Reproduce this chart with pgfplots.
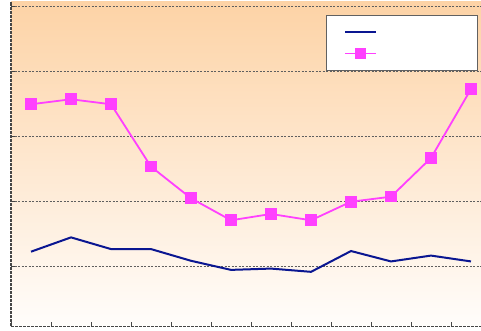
\documentclass[border=0pt]{standalone}
\usepackage{pgfplots}
\usepackage{pgfplotstable}
\pgfplotsset{compat=1.18}

\definecolor{peach}{RGB}{253,211,166}
\definecolor{paleend}{RGB}{255,253,251}
\definecolor{navyline}{RGB}{10,22,145}
\definecolor{magline}{RGB}{255,64,255}
\definecolor{gridgray}{RGB}{95,95,95}
\definecolor{axisgray}{RGB}{70,70,70}

% legend samples: a plain stroke, and a stroke with one centred mark
\pgfplotsset{
  plainsample/.style={legend image code/.code={%
    \draw[##1, line width=2pt] (0pt,0pt) -- (31pt,0pt);}},
  marksample/.style={legend image code/.code={%
    \draw[magline, line width=1.8pt] (0pt,0pt) -- (31pt,0pt);
    \draw[##1, only marks] plot coordinates {(15.5pt,0pt)};}},
}

% monthly series (twelve categories)
\pgfplotstableread{
x  v
1  3.488
2  3.565
3  3.488
4  2.528
5  2.042
6  1.703
7  1.800
8  1.703
9  1.989
10 2.066
11 2.662
12 3.723
}\upperseries

\pgfplotstableread{
x  v
1  1.22
2  1.44
3  1.26
4  1.26
5  1.08
6  0.94
7  0.96
8  0.91
9  1.23
10 1.07
11 1.16
12 1.07
}\lowerseries

\begin{document}
\begin{tikzpicture}[x=1pt,y=1pt]
\path[use as bounding box] (-11,-4.5) rectangle (470,326.5);
\begin{axis}[
  at={(0,0)}, anchor=south west,
  scale only axis,
  width=470pt, height=324.5pt,
  xmin=0.5, xmax=12.25,
  ymin=0.069, ymax=5.0615,
  axis lines*=left,
  axis line style={axisgray, line width=1.2pt, dash pattern=on 3pt off 1pt},
  axis background/.style={shade, top color=peach, bottom color=paleend, draw=none},
  xtick={0.5,1.5,...,11.5},
  ytick={1,2,3,4,5},
  xticklabels={}, yticklabels={},
  tick align=inside,
  major tick length=4pt,
  tick style={axisgray, line width=0.8pt},
  ymajorgrids,
  grid style={gridgray, dash pattern=on 2pt off 1.5pt, line width=0.7pt},
  legend style={
    at={(0.6702,0.9605)}, anchor=north west,
    draw=black!62, line width=1.2pt, fill=white,
    inner xsep=17.5pt, inner ysep=11pt,
    row sep=9pt,
    nodes={inner sep=0pt, text depth=0pt, minimum height=12pt},
    cells={anchor=west},
  },
]
\addplot[navyline, line width=2pt, no markers, plainsample]
  table[x=x, y=v] {\lowerseries};
\addlegendentry{\hspace*{83pt}}

\addplot[magline, line width=1.8pt, mark=square*, mark size=5.3pt,
  mark options={fill=magline, draw=magline, line width=0pt}, marksample]
  table[x=x, y=v] {\upperseries};
\addlegendentry{\hspace*{83pt}}
\end{axis}
\end{tikzpicture}
\end{document}
